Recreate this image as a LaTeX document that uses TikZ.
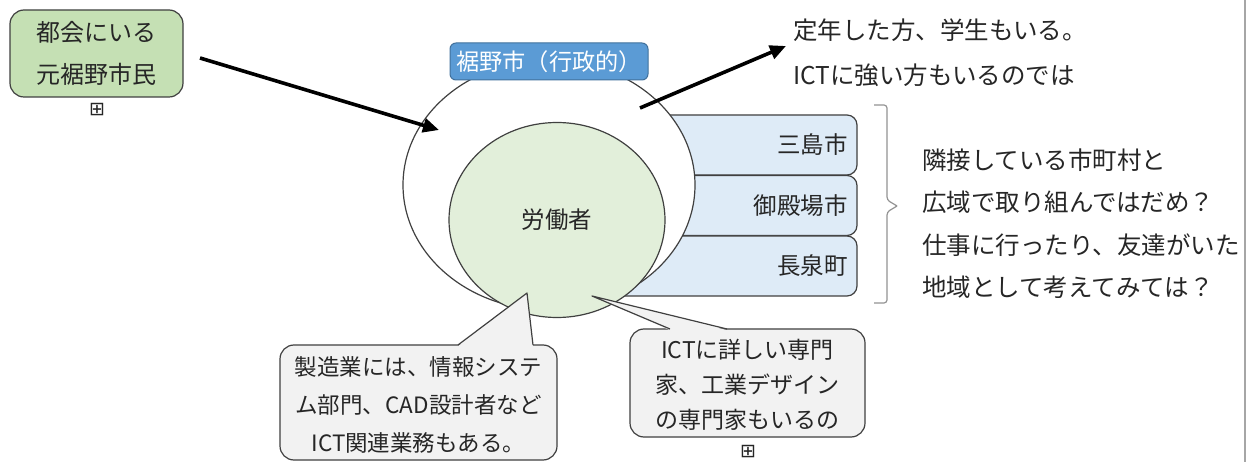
\documentclass[tikz,border=0pt]{standalone}
\usepackage{fontspec}
\setmainfont{Noto Sans CJK JP}
\newfontfamily\symfnt{DejaVu Sans}
\usetikzlibrary{arrows.meta,shapes.geometric}
\definecolor{txt}{HTML}{262626}
\definecolor{edge}{HTML}{404040}
\definecolor{greenbox}{HTML}{C5E0B4}
\definecolor{greenin}{HTML}{E2EFDA}
\definecolor{bluelab}{HTML}{5B9BD5}
\definecolor{bluelabedge}{HTML}{41719C}
\definecolor{bluebox}{HTML}{DEEBF7}
\definecolor{callfill}{HTML}{F2F2F2}
\begin{document}
\begin{tikzpicture}[x=1pt,y=-1pt,
  outline/.style={draw=edge,line width=1.2pt},
  citybox/.style={outline,fill=bluebox,rounded corners=10pt,minimum width=257pt,minimum height=60pt,inner sep=0pt},
  cityname/.style={text=txt,font=\fontsize{23.5}{28}\selectfont,anchor=east,inner sep=0pt},
  bigarrow/.style={draw=black,line width=3.6pt,-{Triangle[length=16pt,width=14pt]}},
  note/.style={text=txt,align=left,anchor=west,inner sep=0pt},
  calloutbox/.style={outline,fill=callfill,rounded corners=14pt},
  plus/.style={text=txt,font=\symfnt\fontsize{19}{20}\selectfont,inner sep=0pt},
]
\useasboundingbox (0,0) rectangle (1253,462);
\fill[white] (0,0) rectangle (1253,462);

% neighbouring towns (drawn under the city ellipse)
\node[citybox] (mishima) at (728.5,145) {};
\node[citybox] (gotemba) at (728.5,205.5) {};
\node[citybox] (nagaizumi) at (728.5,266) {};
\node[cityname] at (848,145) {三島市};
\node[cityname] at (848,206) {御殿場市};
\node[cityname] at (848,266) {長泉町};

% city ellipse
\node[ellipse,outline,fill=white,minimum width=292pt,minimum height=250pt,inner sep=0pt] (city) at (549,185) {};
% workers
\node[ellipse,outline,fill=greenin,minimum width=216pt,minimum height=195pt,inner sep=0pt,
  text=txt,font=\fontsize{23.5}{28}\selectfont] (workers) at (557,220) {労働者};
% label
\node[draw=bluelabedge,line width=1pt,fill=bluelab,rounded corners=6pt,minimum width=198pt,minimum height=37pt,inner sep=0pt,
  text=white,font=\fontsize{23.2}{28}\selectfont] (label) at (549,61.5) {裾野市（行政的）};

% former residents
\node[outline,fill=greenbox,rounded corners=14pt,minimum width=173pt,minimum height=87pt,inner sep=0pt,
  align=center,text=txt,font=\fontsize{24}{42}\selectfont] (former) at (96.5,53.5) {都会にいる\\元裾野市民};
\node[plus] (plus1) at (97,110) {⊞};

% arrows
\coordinate (a1s) at (200,58);
\coordinate (a1e) at (439,130);
\draw[bigarrow] (a1s) -- (a1e);
\coordinate (a2s) at (640,108);
\coordinate (a2e) at (786,46);
\draw[bigarrow] (a2s) -- (a2e);

% top right note
\node[note,font=\fontsize{24.5}{45}\selectfont] (retired) at (793,52.5) {定年した方、学生もいる。\\ICTに強い方もいるのでは};

% bracket
\draw[draw=gray!85,line width=1.2pt,rounded corners=3pt] (874,105) -- (887,105) -- (887,200) -- (897,206);
\draw[draw=gray!85,line width=1.2pt,rounded corners=3pt] (897,206) -- (887,212) -- (887,303) -- (874,303);

% right note
\node[note,font=\fontsize{24.5}{42.5}\selectfont] (regional) at (922,223.5) {隣接している市町村と\\広域で取り組んではだめ？\\仕事に行ったり、友達がいた\\地域として考えてみては？};

% right border line
\draw[gray!70,line width=1.6pt] (1245,0) -- (1245,462);

% callout 1
\draw[calloutbox] (280,345) rectangle (557,460);
\coordinate (c1tip) at (527,293);
\fill[callfill] (458,346.2) -- (c1tip) -- (533,346.2) -- cycle;
\draw[outline,line join=round] (458,345) -- (c1tip) -- (533,345);
\node[text=txt,align=center,font=\fontsize{22.5}{38}\selectfont,inner sep=0pt] (manuf) at (418.5,405)
  {製造業には、情報システ\\ム部門、CAD設計者など\\ICT関連業務もある。};

% callout 2
\draw[calloutbox] (630,329) rectangle (865,437);
\coordinate (c2tip) at (592,296);
\fill[callfill] (670,330.2) -- (c2tip) -- (727,330.2) -- cycle;
\draw[outline,line join=round] (670,329) -- (c2tip) -- (727,329);
\node[text=txt,align=center,font=\fontsize{23}{35}\selectfont,inner sep=0pt] (expert) at (747.5,385)
  {ICTに詳しい専門\\家、工業デザイン\\の専門家もいるの};
\node[plus] (plus2) at (748,452) {⊞};
\end{tikzpicture}
\end{document}
